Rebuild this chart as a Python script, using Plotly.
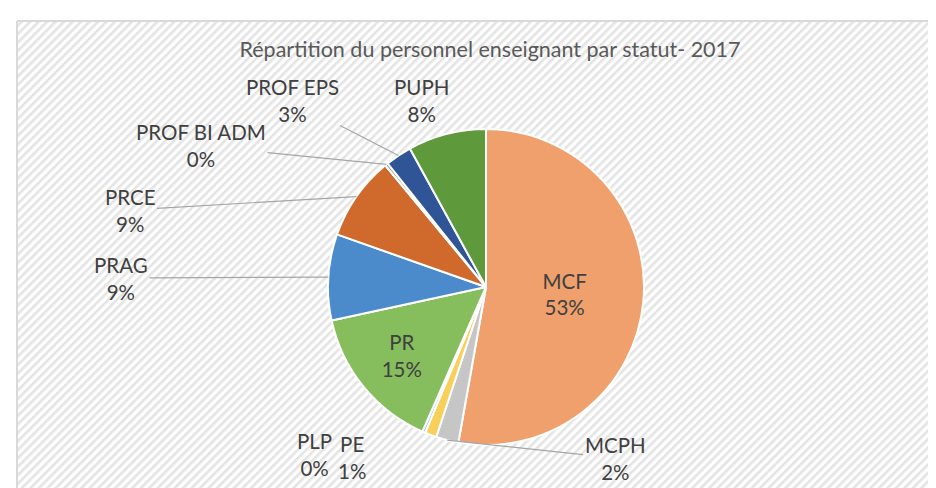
import plotly.graph_objects as go
import base64
import math

# Data
categories = ["MCF", "MCPH", "PE", "PLP", "PR", "PRAG", "PRCE", "PROF BI ADM", "PROF EPS", "PUPH"]
values = [52.8, 2.3, 1.2, 0.3, 15.0, 8.8, 8.6, 0.3, 2.7, 8.0]
title_text = "Répartition du personnel enseignant par statut- 2017"

# Styles
colors = ["#F0A06C", "#C6C6C6", "#F8CF58", "#9DC3E6", "#86BE5E",
          "#4C8BCB", "#CF6A2C", "#7F7F7F", "#2F5597", "#5E9A3C"]
inside = [True, False, False, False, True, False, False, False, False, False]
# outside label placement (pixels from top-left) and whether a leader line is drawn
label_px = {"MCPH": (607, 450, True), "PE": (344, 449, False), "PLP": (306, 446, False),
            "PRAG": (113, 270, True), "PRCE": (122, 202, True), "PROF BI ADM": (193, 138, True),
            "PROF EPS": (284, 93, True), "PUPH": (413, 93, False)}

W, H = 936, 488
cx_px, cy_px, r_px = 478, 279, 158
dom_x = [(cx_px - r_px) / W, (cx_px + r_px) / W]
dom_y = [1 - (cy_px + r_px) / H, 1 - (cy_px - r_px) / H]

font_fam = "Lato"
txt_col = "#404040"
fsize = 20.5

total = sum(values)
pct = [round(v / total * 100) for v in values]
texts = [f"{c}<br>{p}%" if ins else "" for c, p, ins in zip(categories, pct, inside)]

# diagonal hatch background as inline SVG
svg = ('<svg xmlns="http://www.w3.org/2000/svg" width="936" height="488">'
       '<defs><pattern id="p" width="6" height="6" patternUnits="userSpaceOnUse" '
       'patternTransform="rotate(45)"><rect width="6" height="6" fill="#ffffff"/>'
       '<rect width="2.6" height="6" fill="#e4e4e4"/></pattern></defs>'
       '<rect width="936" height="488" fill="#ffffff"/>'
       '<rect x="10" y="14" width="926" height="474" fill="url(#p)"/>'
       '<line x1="9" y1="13" x2="936" y2="13" stroke="#d9d9d9" stroke-width="2"/>'
       '<line x1="9" y1="13" x2="9" y2="488" stroke="#d9d9d9" stroke-width="2"/>'
       '</svg>')
bg_uri = "data:image/svg+xml;base64," + base64.b64encode(svg.encode()).decode()

fig = go.Figure(go.Pie(
    labels=categories,
    values=values,
    sort=False,
    direction="clockwise",
    rotation=0,
    marker=dict(colors=colors, line=dict(color="white", width=2)),
    text=texts,
    textinfo="text",
    textposition="inside",
    insidetextorientation="horizontal",
    insidetextfont=dict(family=font_fam, size=fsize, color=txt_col),
    domain=dict(x=dom_x, y=dom_y),
    showlegend=False,
    hoverinfo="label+percent",
))

# annotations for outside labels with leader lines pointing to slice mid-angles
annotations = []
cum = 0.0
for c, v, p in zip(categories, values, pct):
    mid = (cum + v / 2) / total * 2 * math.pi
    cum += v
    if c not in label_px:
        continue
    tx, ty, line = label_px[c]
    tipx = cx_px + r_px * math.sin(mid)
    tipy = cy_px - r_px * math.cos(mid)
    if line:
        annotations.append(dict(
            x=tipx / W, y=1 - tipy / H, xref="paper", yref="paper",
            ax=tx - tipx, ay=ty - tipy, axref="pixel", ayref="pixel",
            text=f"{c}<br>{p}%", showarrow=True, arrowhead=0, arrowwidth=1.2,
            arrowcolor="#a6a6a6", standoff=0,
            font=dict(family=font_fam, size=fsize, color=txt_col), align="center"))
    else:
        annotations.append(dict(
            x=tx / W, y=1 - ty / H, xref="paper", yref="paper",
            text=f"{c}<br>{p}%", showarrow=False, xanchor="center", yanchor="middle",
            font=dict(family=font_fam, size=fsize, color=txt_col), align="center"))

fig.update_layout(
    width=W, height=H,
    margin=dict(l=0, r=0, t=0, b=0, autoexpand=False),
    paper_bgcolor="white",
    plot_bgcolor="white",
    title=dict(text=title_text, x=482 / W, xanchor="center", y=1 - 41 / H, yanchor="middle",
               font=dict(family=font_fam, size=21.5, color="#595959")),
    images=[dict(source=bg_uri, xref="paper", yref="paper", x=0, y=1,
                 sizex=1, sizey=1, xanchor="left", yanchor="top",
                 sizing="stretch", layer="below")],
    annotations=annotations,
)

fig.write_html("out.html")
